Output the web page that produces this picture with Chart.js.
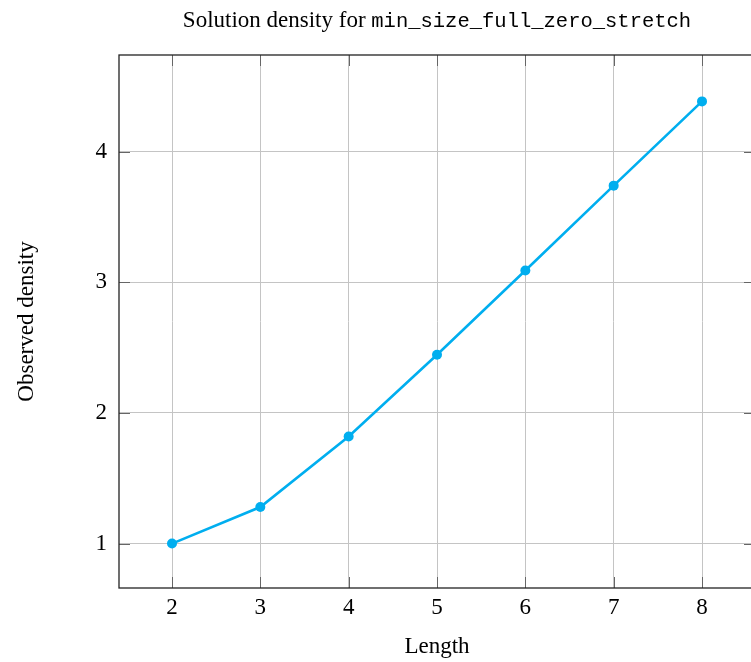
<!DOCTYPE html>
<html>
<head>
<meta charset="utf-8">
<script src="https://cdn.jsdelivr.net/npm/chart.js@4/dist/chart.umd.min.js"></script>
<style>
  html, body { margin: 0; padding: 0; background: #fff; overflow: hidden; }
  #wrap { width: 770px; height: 662px; }
</style>
</head>
<body>
<div id="wrap"><canvas id="chart"></canvas></div>
<script>
const lengths = [2, 3, 4, 5, 6, 7, 8];
const density = [1.0, 1.28, 1.82, 2.445, 3.09, 3.74, 4.385];
const xTicks = [2, 3, 4, 5, 6, 7, 8];
const yTicks = [1, 2, 3, 4];

const titleText = "Solution density for ";
const titleCode = "min_size_full_zero_stretch";
const xTitle = "Length";
const yTitle = "Observed density";

const serif = "'Liberation Serif', 'Times New Roman', serif";
const mono = "'Liberation Mono', 'DejaVu Sans Mono', monospace";

const ctx = document.getElementById("chart");

// frame, inner tick marks and the text labels pgfplots-style
const decor = {
    id: "decor",
    beforeDatasetsDraw(chart) {
        const { ctx, chartArea: a, scales } = chart;
        ctx.save();
        ctx.strokeStyle = "#666";
        ctx.lineWidth = 1;
        const len = 11;
        xTicks.forEach((v) => {
            const x = Math.round(scales.x.getPixelForValue(v)) + 0.5;
            ctx.beginPath();
            ctx.moveTo(x, a.top); ctx.lineTo(x, a.top + len);
            ctx.moveTo(x, a.bottom); ctx.lineTo(x, a.bottom - len);
            ctx.stroke();
        });
        yTicks.forEach((v) => {
            const y = Math.round(scales.y.getPixelForValue(v)) + 0.5;
            ctx.beginPath();
            ctx.moveTo(a.left, y); ctx.lineTo(a.left + len, y);
            ctx.moveTo(a.right, y); ctx.lineTo(a.right - len, y);
            ctx.stroke();
        });
        ctx.strokeStyle = "#222";
        ctx.lineWidth = 1.3;
        ctx.strokeRect(a.left, a.top, a.right - a.left, a.bottom - a.top);
        ctx.restore();
    },
    afterDraw(chart) {
        const { ctx, chartArea: a } = chart;
        const cx = (a.left + a.right) / 2;
        ctx.save();
        ctx.fillStyle = "#000";
        ctx.textBaseline = "alphabetic";

        // title: serif + typewriter parts
        ctx.font = "23px " + serif;
        const w1 = ctx.measureText(titleText).width;
        ctx.font = "20.5px " + mono;
        const w2 = ctx.measureText(titleCode).width;
        let x0 = cx - (w1 + w2) / 2;
        ctx.textAlign = "left";
        ctx.font = "23px " + serif;
        ctx.fillText(titleText, x0, 27);
        ctx.font = "20.5px " + mono;
        ctx.fillText(titleCode, x0 + w1, 27);

        ctx.textAlign = "center";
        ctx.font = "23px " + serif;
        ctx.fillText(xTitle, cx, 653);

        ctx.translate(33, (a.top + a.bottom) / 2);
        ctx.rotate(-Math.PI / 2);
        ctx.fillText(yTitle, 0, 0);
        ctx.restore();
    },
};

new Chart(ctx, {
    type: "scatter",
    data: {
        datasets: [
            {
                label: "density",
                data: lengths.map((x, i) => ({ x: x, y: density[i] })),
                showLine: true,
                borderColor: "#00aeef",
                backgroundColor: "#00aeef",
                borderWidth: 2.6,
                pointRadius: 5,
                pointHoverRadius: 5,
                pointBorderWidth: 0,
                tension: 0,
            },
        ],
    },
    options: {
        responsive: true,
        maintainAspectRatio: false,
        animation: false,
        events: [],
        layout: { padding: { top: 55, right: 15, left: 0, bottom: 0 } },
        plugins: {
            legend: { display: false },
            tooltip: { enabled: false },
            title: { display: false },
        },
        scales: {
            x: {
                type: "linear",
                min: 1.4,
                max: 8.6,
                afterFit: (s) => { s.height = 74; },
                afterBuildTicks: (s) => { s.ticks = xTicks.map((v) => ({ value: v })); },
                grid: { color: "#c4c4c4", lineWidth: 1, drawTicks: false },
                border: { display: false },
                ticks: {
                    padding: 6,
                    color: "#000",
                    font: { family: serif, size: 23 },
                    maxRotation: 0,
                    callback: (v) => String(v),
                },
            },
            y: {
                type: "linear",
                min: 0.66,
                max: 4.74,
                afterFit: (s) => { s.width = 119; },
                afterBuildTicks: (s) => { s.ticks = yTicks.map((v) => ({ value: v })); },
                grid: { color: "#c4c4c4", lineWidth: 1, drawTicks: false },
                border: { display: false },
                ticks: {
                    padding: 12,
                    color: "#000",
                    font: { family: serif, size: 23 },
                    callback: (v) => String(v),
                },
            },
        },
    },
    plugins: [decor],
});
</script>
</body>
</html>
